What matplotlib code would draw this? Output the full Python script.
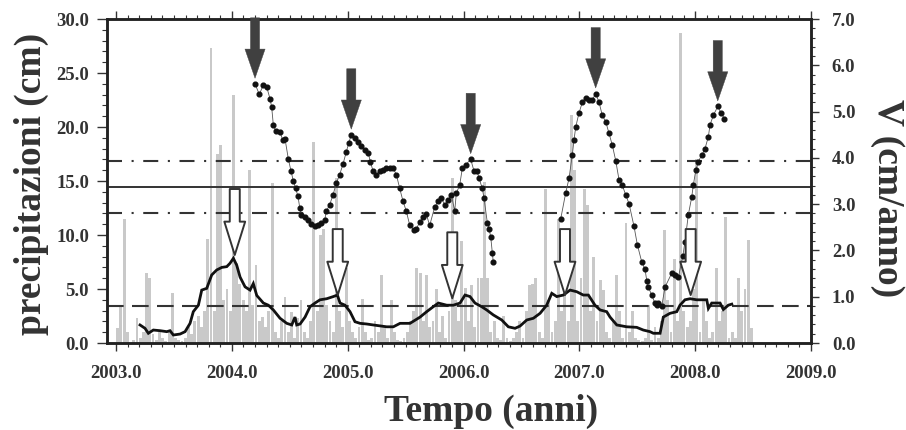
import numpy as np
import matplotlib
matplotlib.use("Agg")
import matplotlib.pyplot as plt
from matplotlib.ticker import MultipleLocator, FormatStrFormatter

# ---------------- data ----------------
# dekadal precipitation (cm), starting 2003.0, 36 per year
rain_start = 2003.0
rain_cm = [
    1.4, 3.5, 11.5, 1.0, 0.0, 0.3, 2.3, 0.5, 1.0, 6.5, 6.0, 0.8, 0.3, 1.0, 0.5, 0.2, 1.2, 4.6,
    0.5, 0.3, 0.2, 0.5, 1.5, 0.8, 2.0, 2.5, 1.5, 3.0, 9.6, 27.3, 3.0, 17.5, 18.3, 4.0, 5.0, 3.0,
    23.0, 7.4, 5.5, 4.0, 3.0, 16.0, 3.5, 7.2, 2.0, 2.4, 1.5, 3.0, 14.8, 1.0, 0.5, 2.0, 4.3, 1.0,
    2.9, 0.5, 2.3, 4.0, 1.0, 0.5, 2.0, 18.6, 3.0, 10.0, 10.6, 3.5, 2.0, 1.0, 15.3, 3.0, 1.5, 6.9,
    2.0, 1.0, 0.5, 1.5, 4.1, 1.0, 0.3, 0.5, 2.0, 1.0, 6.3, 1.5, 0.5, 4.0, 1.0, 0.3, 0.2, 0.5,
    1.0, 2.0, 3.0, 6.9, 6.5, 2.0, 6.3, 1.5, 2.0, 5.0, 1.0, 2.5, 0.5, 3.0, 15.3, 4.0, 2.0, 9.4,
    5.1, 2.0, 5.4, 1.5, 6.0, 6.0, 14.9, 6.0, 1.0, 2.0, 0.5, 0.3, 2.5, 0.5, 0.2, 0.5, 1.0, 2.0,
    0.5, 3.0, 5.4, 5.5, 6.0, 1.0, 0.5, 14.3, 4.0, 1.0, 2.0, 11.5, 3.0, 7.0, 2.0, 21.1, 16.0, 2.0,
    6.0, 14.3, 12.8, 3.0, 8.0, 2.0, 5.8, 4.9, 1.0, 0.5, 2.0, 6.3, 3.0, 0.5, 11.1, 1.0, 3.0, 0.5,
    0.3, 0.2, 0.5, 3.5, 0.3, 1.5, 0.5, 2.0, 10.5, 4.0, 1.0, 7.8, 2.0, 28.7, 3.0, 1.5, 2.0, 5.0,
    17.0, 1.0, 4.0, 2.0, 0.5, 1.0, 6.9, 2.0, 3.0, 11.7, 0.5, 1.0, 0.5, 6.0, 3.0, 5.0, 9.5, 1.4,
]

# smoothed precipitation curve (cm)
cum_t = [2003.207, 2003.250, 2003.279, 2003.322, 2003.380, 2003.438, 2003.466, 2003.495, 2003.553,
         2003.596, 2003.639, 2003.667, 2003.711, 2003.740, 2003.783, 2003.826, 2003.869, 2003.913,
         2003.956, 2003.984, 2004.013, 2004.042, 2004.071, 2004.114, 2004.157, 2004.185, 2004.215,
         2004.272, 2004.315, 2004.358, 2004.416, 2004.474, 2004.517, 2004.545, 2004.560, 2004.589,
         2004.632, 2004.675, 2004.718, 2004.761, 2004.819, 2004.876, 2004.911, 2004.934, 2004.977,
         2005.020, 2005.063, 2005.107, 2005.164, 2005.221, 2005.337, 2005.394, 2005.452, 2005.538,
         2005.625, 2005.682, 2005.739, 2005.783, 2005.855, 2005.912, 2005.970, 2006.013, 2006.056,
         2006.099, 2006.157, 2006.200, 2006.257, 2006.330, 2006.387, 2006.445, 2006.488, 2006.546,
         2006.603, 2006.661, 2006.718, 2006.762, 2006.805, 2006.862, 2006.920, 2006.977, 2007.034,
         2007.078, 2007.135, 2007.179, 2007.236, 2007.265, 2007.323, 2007.409, 2007.495, 2007.552,
         2007.610, 2007.639, 2007.697, 2007.725, 2007.783, 2007.841, 2007.869, 2007.912, 2007.956,
         2008.013, 2008.100, 2008.114, 2008.143, 2008.215, 2008.243, 2008.286, 2008.316]
cum_cm = [1.67, 1.36, 0.90, 1.20, 1.14, 1.05, 1.14, 0.74, 0.83,
          1.05, 1.82, 2.90, 3.50, 4.90, 5.06, 6.30, 6.76, 7.00,
          7.07, 7.38, 7.84, 7.20, 6.10, 5.20, 4.90, 5.50, 4.40,
          3.70, 3.50, 3.06, 2.29, 1.82, 1.67, 2.40, 1.67, 1.76,
          2.40, 3.36, 3.70, 4.00, 4.10, 4.30, 4.44, 3.70, 3.50,
          2.90, 1.97, 1.82, 1.76, 1.67, 1.50, 1.50, 1.82, 1.82,
          2.40, 2.90, 3.36, 3.70, 3.50, 3.50, 3.70, 4.44, 4.30,
          3.70, 3.36, 3.06, 2.60, 2.13, 1.50, 1.36, 1.57, 2.13,
          2.29, 2.75, 3.50, 4.60, 4.30, 4.44, 4.90, 4.75, 4.44,
          4.44, 3.50, 3.06, 2.90, 2.40, 1.67, 1.50, 1.45, 1.20,
          1.05, 0.90, 0.90, 2.40, 2.75, 2.90, 3.50, 4.00, 4.10,
          4.00, 4.00, 3.20, 3.70, 3.70, 3.10, 3.50, 3.60]

# velocity V (cm/anno), two measurement periods
vel_t1 = [2004.200, 2004.237, 2004.272, 2004.301, 2004.330, 2004.344, 2004.358, 2004.381, 2004.416,
          2004.439, 2004.459, 2004.488, 2004.511, 2004.531, 2004.550, 2004.571, 2004.586, 2004.600,
          2004.629, 2004.658, 2004.686, 2004.716, 2004.744, 2004.772, 2004.802, 2004.816, 2004.845,
          2004.873, 2004.902, 2004.931, 2004.960, 2004.988, 2005.009, 2005.031, 2005.061, 2005.089,
          2005.118, 2005.147, 2005.176, 2005.196, 2005.219, 2005.247, 2005.277, 2005.305, 2005.334,
          2005.363, 2005.391, 2005.420, 2005.449, 2005.478, 2005.506, 2005.536, 2005.570, 2005.593,
          2005.622, 2005.650, 2005.679, 2005.708, 2005.751, 2005.780, 2005.808, 2005.838, 2005.866,
          2005.895, 2005.924, 2005.938, 2005.967, 2005.990, 2006.019, 2006.062, 2006.091, 2006.117,
          2006.134, 2006.162, 2006.177, 2006.206, 2006.220, 2006.235, 2006.249, 2006.257]
vel_v1 = [5.60, 5.37, 5.58, 5.53, 5.27, 5.09, 4.71, 4.57, 4.55,
          4.39, 4.41, 3.97, 3.71, 3.50, 3.34, 3.17, 2.92, 2.77,
          2.73, 2.66, 2.57, 2.52, 2.54, 2.59, 2.66, 2.85, 2.99,
          3.20, 3.45, 3.64, 3.87, 4.13, 4.32, 4.50, 4.42, 4.34,
          4.25, 4.18, 4.11, 3.92, 3.71, 3.64, 3.71, 3.73, 3.78,
          3.78, 3.78, 3.64, 3.34, 3.06, 2.85, 2.54, 2.45, 2.47,
          2.61, 2.73, 2.78, 2.54, 2.94, 3.06, 3.13, 2.99, 3.08,
          3.20, 2.85, 3.24, 3.41, 3.78, 3.85, 3.97, 3.71, 3.71,
          3.56, 3.34, 3.13, 2.59, 2.47, 2.29, 1.94, 1.75]
vel_t2 = [2006.839, 2006.882, 2006.911, 2006.939, 2006.954, 2006.969, 2006.997, 2007.026, 2007.055,
          2007.084, 2007.112, 2007.141, 2007.170, 2007.198, 2007.228, 2007.256, 2007.285, 2007.314,
          2007.343, 2007.371, 2007.400, 2007.429, 2007.472, 2007.501, 2007.539, 2007.567, 2007.582,
          2007.596, 2007.625, 2007.653, 2007.668, 2007.682, 2007.711, 2007.740, 2007.798, 2007.826,
          2007.855, 2007.893, 2007.912, 2007.941, 2007.970, 2007.984, 2008.005, 2008.027, 2008.057,
          2008.085, 2008.114, 2008.128, 2008.157, 2008.195, 2008.223, 2008.252]
vel_v2 = [2.68, 3.24, 3.56, 4.06, 4.39, 4.67, 4.97, 5.20, 5.30,
          5.25, 5.25, 5.39, 5.20, 4.92, 4.78, 4.53, 4.27, 3.94,
          3.52, 3.41, 3.20, 3.01, 2.52, 2.12, 1.75, 1.59, 1.35,
          1.21, 1.03, 0.86, 0.82, 0.86, 0.79, 1.21, 1.51, 1.47,
          1.42, 1.87, 2.19, 2.77, 3.15, 3.41, 3.73, 3.92, 4.06,
          4.20, 4.46, 4.71, 4.92, 5.11, 4.97, 4.85]

# reference levels
v_mean = 3.37          # cm/anno (solid)
v_band = [2.81, 3.94]  # cm/anno (dash-dot)
rain_ref = 3.43        # cm (dashed)

# arrow annotations
vel_peak_windows = [(2004.1, 2004.4), (2004.9, 2005.2), (2005.95, 2006.2), (2007.0, 2007.3), (2008.1, 2008.3)]
rain_arrow_t = [2004.025, 2004.914, 2005.903, 2006.876, 2007.961]
rain_arrow_y = [8.15, 4.44, 4.14, 4.44, 4.44]

# ---------------- figure ----------------
FONT = "Liberation Serif"
plt.rcParams['font.family'] = [FONT, 'DejaVu Serif']
fig = plt.figure(figsize=(9.06, 4.30), dpi=100)
ax = fig.add_axes([107/906, 87/430, 704/906, 324/430])
ax2 = ax.twinx()
ax2.set_zorder(ax.get_zorder() + 1)
ax2.patch.set_visible(False)

rain_t = rain_start + (np.arange(len(rain_cm)) + 0.5) / 36.0
ax.bar(rain_t, rain_cm, width=0.9/36, color='#c9c9c9', edgecolor='none', zorder=1)

ax.set_xlim(2002.922, 2009.0)
ax.set_ylim(0, 30)
ax2.set_ylim(0, 7)

line_c = '#333333'
ax2.axhline(v_mean, color=line_c, lw=1.4, zorder=2)
for v in v_band:
    ax2.axhline(v, color=line_c, lw=1.5, dashes=(7.2, 4.6, 1.0, 4.6), zorder=2)
ax.axhline(rain_ref, color=line_c, lw=1.5, dashes=(8, 4), zorder=2)

ax.plot(cum_t, cum_cm, color='#111111', lw=2.0, zorder=3, solid_joinstyle='miter')

for tt, vv in [(vel_t1, vel_v1), (vel_t2, vel_v2)]:
    ax2.plot(tt, vv, color='#555555', lw=0.6, marker='o', ms=3.4,
             mfc='#111111', mec='#111111', zorder=4)

# filled arrows to velocity maxima
vt_all = np.array(vel_t1 + vel_t2)
vv_all = np.array(vel_v1 + vel_v2)
for lo, hi in vel_peak_windows:
    m = (vt_all >= lo) & (vt_all <= hi)
    k = np.argmax(vv_all[m])
    tp, vp = vt_all[m][k], vv_all[m][k]
    ax2.annotate('', xy=(tp, vp + 0.12), xytext=(0, 43.5), textcoords='offset points',
                 arrowprops=dict(arrowstyle='simple,head_length=2.1,head_width=1.45,tail_width=0.66',
                                 mutation_scale=10, fc='#404040', ec='#404040', lw=0.3,
                                 shrinkA=0, shrinkB=0),
                 zorder=6, annotation_clip=False)

# hollow arrows to precipitation maxima (drawn on the top axes so they cover the lines)
for tp, yp in zip(rain_arrow_t, rain_arrow_y):
    ax2.annotate('', xy=(tp, yp), xycoords=ax.transData, xytext=(0, 47.5), textcoords='offset points',
                 arrowprops=dict(arrowstyle='simple,head_length=2.4,head_width=1.5,tail_width=0.72',
                                 mutation_scale=10, fc='white', ec='#333333', lw=1.4,
                                 shrinkA=0, shrinkB=0),
                 zorder=6)

fmt = FormatStrFormatter('%.1f')
ax.xaxis.set_major_locator(MultipleLocator(1.0))
ax.xaxis.set_minor_locator(MultipleLocator(0.1))
ax.xaxis.set_major_formatter(fmt)
ax.yaxis.set_major_locator(MultipleLocator(5.0))
ax.yaxis.set_minor_locator(MultipleLocator(1.0))
ax.yaxis.set_major_formatter(fmt)
ax2.yaxis.set_major_locator(MultipleLocator(1.0))
ax2.yaxis.set_minor_locator(MultipleLocator(0.2))
ax2.yaxis.set_major_formatter(fmt)

tick_c = '#333333'
ax.tick_params(axis='x', which='major', direction='out', length=6, width=1.0, pad=10,
               top=True, labelsize=13.5, labelcolor=tick_c, color=tick_c)
ax.tick_params(axis='x', which='minor', direction='out', length=3, width=0.8, top=True, color=tick_c)
ax.tick_params(axis='y', which='major', direction='out', length=7, width=1.0, pad=6,
               labelsize=13.5, labelcolor=tick_c, color=tick_c)
ax.tick_params(axis='y', which='minor', direction='out', length=3.5, width=0.8, color=tick_c)
ax2.tick_params(axis='y', which='major', direction='out', length=6, width=1.0, pad=9,
                labelsize=13.5, labelcolor=tick_c, color=tick_c)
ax2.tick_params(axis='y', which='minor', direction='out', length=3, width=0.8, color=tick_c)
for a in (ax, ax2):
    for lab in a.get_xticklabels() + a.get_yticklabels():
        lab.set_fontweight('bold')
    for s in a.spines.values():
        s.set_linewidth(1.8)
        s.set_color('#222222')

fig.text(491.5/906, 1 - 411/430, 'Tempo (anni)', ha='center', va='center',
         fontsize=27, fontweight='bold', color='#333333')
fig.text(31/906, 1 - 184/430, 'precipitazioni (cm)', ha='center', va='center', rotation=90,
         fontsize=27, fontweight='bold', color='#333333')
fig.text(888/906, 1 - 198/430, 'V (cm/anno)', ha='center', va='center', rotation=270,
         fontsize=27, fontweight='bold', color='#333333')

fig.savefig('out.png', dpi=100)
